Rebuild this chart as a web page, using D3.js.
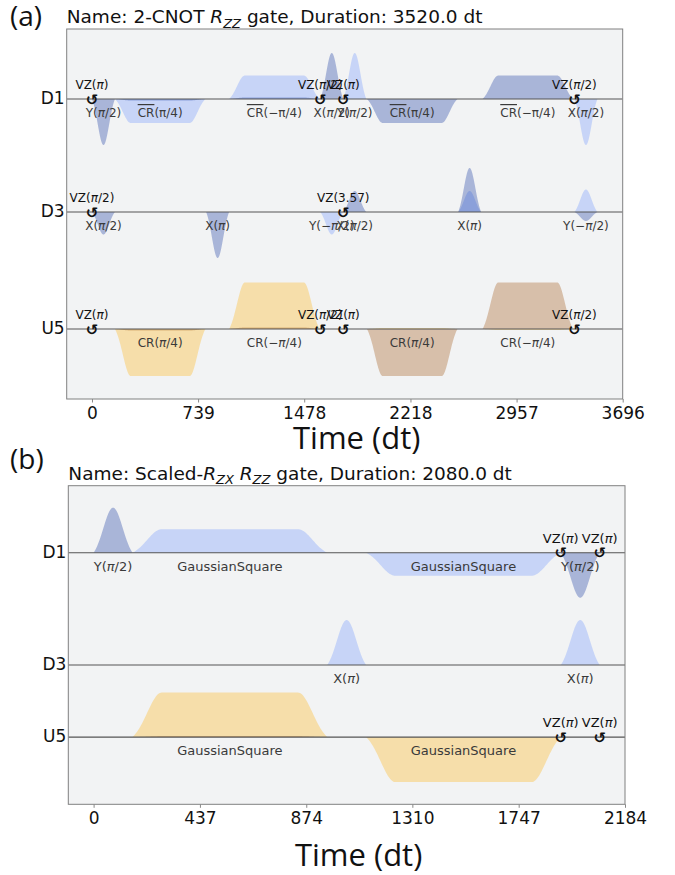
<!DOCTYPE html>
<html>
<head>
<meta charset="utf-8">
<script src="https://cdn.jsdelivr.net/npm/d3@7"></script>
<style>
  body { margin: 0; background: #fff; }
  text { font-family: "DejaVu Sans", sans-serif; }
</style>
</head>
<body>
<svg id="fig" width="675" height="875"></svg>
<script>
// ---- data ----
const channels = ['D1', 'D3', 'U5'];

// panel (a)
const durationA = 3520;
const ticksA = [0, 739, 1478, 2218, 2957, 3696];
const offsetsA = [0, -2.26, -4.6];          // channel baselines, amplitude units
const yExtentA = [-6.0, 1.4];
// [channel, t0, duration, flat width, real amp, imag amp, label]
const pulsesA = [
  ['D1', 0, 160, 0, 0, -0.92, 'Y(π/2)'],
  ['D1', 160, 630, 410, -0.48, -0.03, '~CR(π/4)'],
  ['D1', 955, 630, 410, 0.47, 0.03, '~CR(−π/4)'],
  ['D1', 1590, 160, 0, 0, 0.92, 'X(π/2)'],
  ['D1', 1750, 160, 0, 0.92, 0, 'Y(π/2)'],
  ['D1', 1915, 630, 410, 0, -0.48, '~CR(π/4)'],
  ['D1', 2720, 630, 410, 0, 0.47, '~CR(−π/4)'],
  ['D1', 3360, 160, 0, -0.92, 0, 'X(π/2)'],
  ['D3', 0, 160, 0, 0, -0.45, 'X(π/2)'],
  ['D3', 795, 160, 0, 0, -0.92, 'X(π)'],
  ['D3', 1590, 160, 0, -0.45, 0, 'Y(−π/2)'],
  ['D3', 1750, 160, 0, 0, 0.42, 'X(π/2)'],
  ['D3', 2550, 160, 0, 0.42, 0.88, 'X(π)'],
  ['D3', 3360, 160, 0, 0.45, -0.18, 'Y(−π/2)'],
  ['U5', 160, 630, 410, -0.94, -0.03, 'CR(π/4)'],
  ['U5', 955, 630, 410, 0.93, 0.03, 'CR(−π/4)'],
  ['U5', 1915, 630, 410, 0.02, -0.94, 'CR(π/4)'],
  ['U5', 2720, 630, 410, -0.02, 0.93, 'CR(−π/4)']
];
// [channel, time, label]
const framesA = [
  ['D1', 0, 'VZ(π)'], ['D1', 1590, 'VZ(π/2)'], ['D1', 1750, 'VZ(π)'], ['D1', 3360, 'VZ(π/2)'],
  ['D3', 0, 'VZ(π/2)'], ['D3', 1750, 'VZ(3.57)'],
  ['U5', 0, 'VZ(π)'], ['U5', 1590, 'VZ(π/2)'], ['U5', 1750, 'VZ(π)'], ['U5', 3360, 'VZ(π/2)']
];
const titleA = [['Name: 2-CNOT ', ''], ['R', 'i'], ['ZZ', 'sub'], [' gate, Duration: 3520.0 dt', '']];

// panel (b)
const durationB = 2080;
const ticksB = [0, 437, 874, 1310, 1747, 2184];
const offsetsB = [0, -2.246, -3.686];
const yExtentB = [-5.03, 1.34];
const pulsesB = [
  ['D1', 0, 160, 0, 0, 0.9, 'Y(π/2)'],
  ['D1', 160, 800, 560, 0.47, 0, 'GaussianSquare'],
  ['D1', 1120, 800, 560, -0.46, 0, 'GaussianSquare'],
  ['D1', 1920, 160, 0, 0, -0.9, 'Y(π/2)'],
  ['D3', 960, 160, 0, 0.9, 0, 'X(π)'],
  ['D3', 1920, 160, 0, 0.9, 0, 'X(π)'],
  ['U5', 160, 800, 560, 0.89, 0.02, 'GaussianSquare'],
  ['U5', 1120, 800, 560, -0.9, 0, 'GaussianSquare']
];
const framesB = [
  ['D1', 1920, 'VZ(π)'], ['D1', 2080, 'VZ(π)'],
  ['U5', 1920, 'VZ(π)'], ['U5', 2080, 'VZ(π)']
];
const titleB = [['Name: Scaled-', ''], ['R', 'i'], ['ZX', 'sub'], [' ', ''], ['R', 'i'], ['ZZ', 'sub'],
                [' gate, Duration: 2080.0 dt', '']];

// ---- styling ----
const bg = '#f2f3f4';
const colors = { D: ['#648fff', '#002999'], U: ['#ffb000', '#994a00'] };

const svg = d3.select('#fig');

// lifted gaussian / gaussian-square envelope, 0..1
function envelope(t, dur, width) {
  const rf = (dur - width) / 2;
  const sigma = rf / 2;
  let d;
  if (width > 0) {
    d = t < rf ? t - rf : (t > rf + width ? t - rf - width : 0);
  } else {
    d = t - dur / 2;
  }
  const edge = Math.exp(-rf * rf / (2 * sigma * sigma));
  const g = Math.exp(-d * d / (2 * sigma * sigma));
  return Math.max(0, (g - edge) / (1 - edge));
}

function addLabel(sel, label) {
  let s = label;
  const over = s.startsWith('~');
  if (over) {
    sel.append('tspan').attr('text-decoration', 'overline').text('CR');
    s = s.slice(3);
  }
  s.split(/(π)/).forEach(part => {
    if (!part) return;
    const ts = sel.append('tspan').text(part);
    if (part === 'π' && !over) ts.attr('font-style', 'italic');
  });
}

function drawPanel(cfg) {
  const g = svg.append('g');
  const x = d3.scaleLinear()
    .domain([-0.05 * cfg.duration, 1.05 * cfg.duration])
    .range([cfg.left, cfg.right]);
  const y = d3.scaleLinear().domain(cfg.yExtent).range([cfg.bottom, cfg.top]);
  const base = ch => y(cfg.offsets[channels.indexOf(ch)]);

  g.append('rect')
    .attr('x', cfg.left).attr('y', cfg.top)
    .attr('width', cfg.right - cfg.left).attr('height', cfg.bottom - cfg.top)
    .attr('fill', bg);

  const clip = 'clip' + cfg.tag.replace(/\W/g, '');
  g.append('clipPath').attr('id', clip).append('rect')
    .attr('x', cfg.left).attr('y', cfg.top)
    .attr('width', cfg.right - cfg.left).attr('height', cfg.bottom - cfg.top);
  const plot = g.append('g').attr('clip-path', `url(#${clip})`);

  // waveforms: real then imaginary parts
  [4, 5].forEach((k, part) => {
    cfg.pulses.forEach(p => {
      if (Math.abs(p[k]) < 1e-6) return;
      const off = cfg.offsets[channels.indexOf(p[0])];
      const ts = d3.range(0, p[2] + 0.5, p[2] / 200);
      const area = d3.area()
        .x(t => x(p[1] + t))
        .y0(y(off))
        .y1(t => y(off + p[k] * envelope(t, p[2], p[3])));
      plot.append('path')
        .attr('d', area(ts))
        .attr('fill', colors[p[0][0]][part])
        .attr('fill-opacity', 0.3);
    });
  });

  // baselines
  channels.forEach(ch => {
    plot.append('line')
      .attr('x1', cfg.left).attr('x2', cfg.right)
      .attr('y1', base(ch)).attr('y2', base(ch))
      .attr('stroke', '#555').attr('stroke-width', 1.1);
  });

  // pulse labels
  cfg.pulses.forEach(p => {
    const t = plot.append('text')
      .attr('x', x(p[1] + p[2] / 2)).attr('y', base(p[0]) + 14)
      .attr('text-anchor', 'middle').attr('dominant-baseline', 'middle')
      .attr('font-size', cfg.labelSize).attr('fill', '#3a3a3a');
    addLabel(t, p[6]);
  });

  // frame changes
  cfg.frames.forEach(f => {
    plot.append('text')
      .attr('x', x(f[1])).attr('y', base(f[0]) + 1)
      .attr('text-anchor', 'middle').attr('dominant-baseline', 'middle')
      .attr('font-size', 15).attr('font-weight', 'bold').attr('fill', '#111')
      .text('↺');
    const t = plot.append('text')
      .attr('x', x(f[1])).attr('y', base(f[0]) - 14)
      .attr('text-anchor', 'middle').attr('dominant-baseline', 'middle')
      .attr('font-size', cfg.labelSize).attr('fill', '#111');
    addLabel(t, f[2]);
  });

  // frame
  g.append('rect')
    .attr('x', cfg.left).attr('y', cfg.top)
    .attr('width', cfg.right - cfg.left).attr('height', cfg.bottom - cfg.top)
    .attr('fill', 'none').attr('stroke', '#808080').attr('stroke-width', 1);

  // x axis
  const ax = g.append('g')
    .attr('transform', `translate(0,${cfg.bottom})`)
    .call(d3.axisBottom(x).tickValues(cfg.ticks).tickSize(3.5).tickPadding(4).tickFormat(d3.format('d')));
  ax.select('.domain').remove();
  ax.selectAll('line').attr('stroke', '#888');
  ax.selectAll('text').attr('font-size', 17).attr('fill', '#111')
    .style('font-family', '"DejaVu Sans", sans-serif');

  // channel names
  channels.forEach(ch => {
    g.append('text')
      .attr('x', cfg.left - 2).attr('y', base(ch))
      .attr('text-anchor', 'end').attr('dominant-baseline', 'middle')
      .attr('font-size', 17).attr('fill', '#111').text(ch);
  });

  // title
  const tt = g.append('text')
    .attr('x', cfg.left).attr('y', cfg.top - 6)
    .attr('font-size', 18.5).attr('fill', '#111');
  let shifted = false;
  cfg.title.forEach(([s, st]) => {
    const ts = tt.append('tspan').text(s);
    if (st === 'i') ts.attr('font-style', 'italic');
    if (st === 'sub') {
      ts.attr('font-style', 'italic').attr('font-size', 13).attr('dy', 4.5);
      shifted = true;
    } else if (shifted) {
      ts.attr('dy', -4.5);
      shifted = false;
    }
  });

  // panel tag and axis title
  g.append('text')
    .attr('x', 10).attr('y', cfg.tagY)
    .style('font-family', '"Open Sans", sans-serif')
    .attr('font-size', 28).attr('fill', '#111').text(cfg.tag);
  g.append('text')
    .attr('x', (cfg.left + cfg.right) / 2 + 12).attr('y', cfg.xlabelY)
    .attr('text-anchor', 'middle')
    .style('font-family', '"Open Sans", sans-serif')
    .attr('font-size', 31).attr('fill', '#111').text('Time (dt)');
}

drawPanel({
  tag: '(a)', tagY: 26, duration: durationA, ticks: ticksA, offsets: offsetsA,
  yExtent: yExtentA, pulses: pulsesA, frames: framesA, title: titleA, labelSize: 12,
  left: 66.7, right: 622.7, top: 29, bottom: 399, xlabelY: 449
});
drawPanel({
  tag: '(b)', tagY: 469, duration: durationB, ticks: ticksB, offsets: offsetsB,
  yExtent: yExtentB, pulses: pulsesB, frames: framesB, title: titleB, labelSize: 13,
  left: 68.3, right: 625, top: 485.7, bottom: 804.3, xlabelY: 866
});
</script>
</body>
</html>
